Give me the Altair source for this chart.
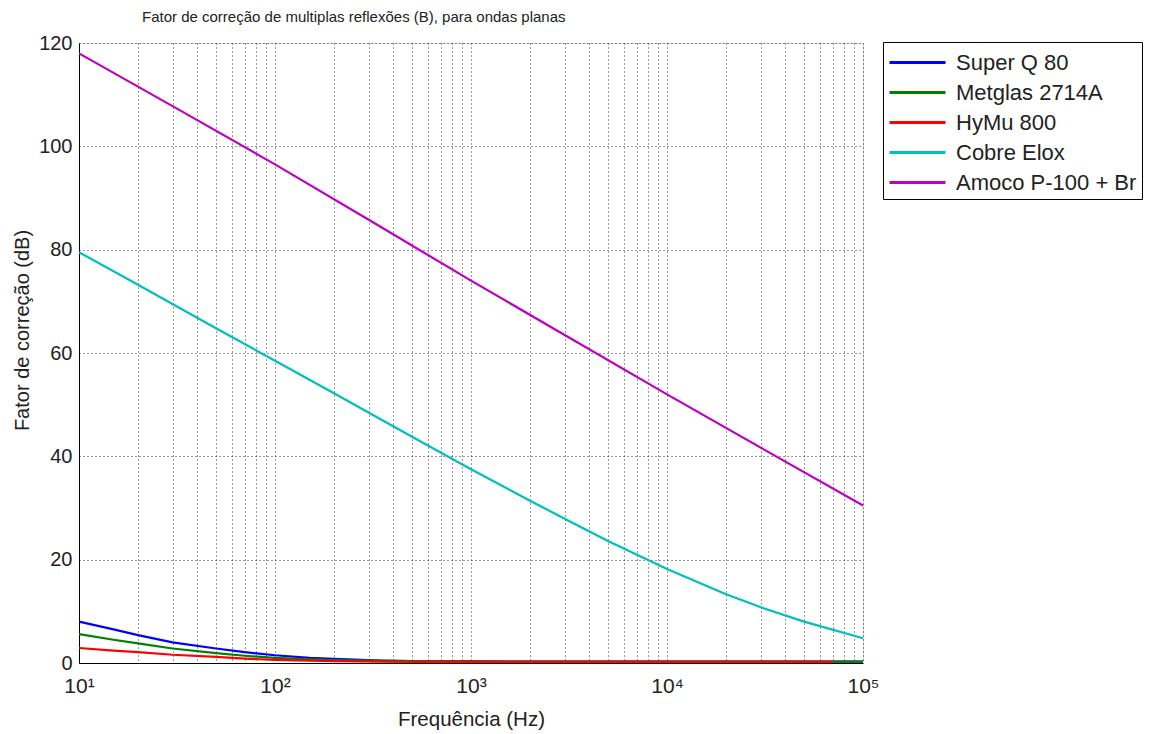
import altair as alt
import pandas as pd

# Frequency grids (Hz) and values (dB)
freq_magenta = [10, 31.6, 100, 316, 1000, 3162, 10000, 31623, 100000]
amoco = [118.0, 107.3, 96.5, 85.3, 74.0, 63.0, 52.0, 41.2, 30.5]

freq_cyan = [10, 20, 31.6, 50, 100, 200, 316, 500, 1000, 2000, 3162, 5000, 10000, 20000, 31623, 50000, 100000]
cobre = [79.5, 73.2, 69.0, 64.8, 58.5, 52.2, 48.0, 43.8, 37.5, 31.4, 27.5, 23.6, 18.2, 13.3, 10.5, 8.0, 4.8]

freq_small = [10, 15, 20, 30, 50, 70, 100, 150, 200, 350, 500, 1000, 10000, 70000, 100000]
superq = [8.0, 6.5, 5.4, 4.0, 2.8, 2.1, 1.5, 1.0, 0.8, 0.45, 0.35, 0.3, 0.25, 0.25, 0.25]
metglas = [5.6, 4.5, 3.8, 2.8, 1.9, 1.4, 1.0, 0.7, 0.55, 0.4, 0.35, 0.3, 0.25, 0.25, 0.25]
hymu = [2.9, 2.4, 2.1, 1.6, 1.2, 0.85, 0.6, 0.45, 0.35, 0.25, 0.22, 0.2, 0.2, 0.2, None]

series_names = ["Super Q 80", "Metglas 2714A", "HyMu 800", "Cobre Elox", "Amoco P-100 + Br"]
series_colors = ["#0000ff", "#008000", "#ff0000", "#00bfbf", "#bf00bf"]

x_ticks = [m * 10 ** e for e in range(1, 5) for m in range(1, 10)] + [100000]
y_ticks = [0, 20, 40, 60, 80, 100, 120]

rows = []
for f, v in zip(freq_small, superq):
    rows.append({"f": f, "v": v, "s": series_names[0], "o": 0})
for f, v in zip(freq_small, metglas):
    rows.append({"f": f, "v": v, "s": series_names[1], "o": 1})
for f, v in zip(freq_small, hymu):
    if v is not None:
        rows.append({"f": f, "v": v, "s": series_names[2], "o": 2})
for f, v in zip(freq_cyan, cobre):
    rows.append({"f": f, "v": v, "s": series_names[3], "o": 3})
for f, v in zip(freq_magenta, amoco):
    rows.append({"f": f, "v": v, "s": series_names[4], "o": 4})
df = pd.DataFrame(rows)

label_expr = ("datum.value==10?'10¹':datum.value==100?'10²':datum.value==1000?'10³':"
              "datum.value==10000?'10⁴':datum.value==100000?'10⁵':''")

FONT = "Liberation Sans"

chart = alt.Chart(df).mark_line(strokeWidth=2.2).encode(
    x=alt.X("f:Q",
            scale=alt.Scale(type="log", domain=[10, 100000], nice=False),
            axis=alt.Axis(values=x_ticks, labelExpr=label_expr, title="Frequência (Hz)",
                          grid=True, gridDash=[1, 3], gridColor="#000000", gridOpacity=0.8,
                          ticks=False, labelFontSize=21, titleFontSize=20.5, titleFontWeight="normal",
                          labelPadding=12, titlePadding=13, domainColor="#000000",
                          labelColor="#222222", titleColor="#222222", labelFlush=False)),
    y=alt.Y("v:Q",
            scale=alt.Scale(domain=[0, 120], nice=False),
            axis=alt.Axis(values=y_ticks, title="Fator de correção (dB)",
                          grid=True, gridDash=[1, 3], gridColor="#000000", gridOpacity=0.8,
                          ticks=False, labelFontSize=20, titleFontSize=20,
                          titleFontWeight="normal", labelPadding=7, titlePadding=6, titleY=287,
                          domainColor="#000000", labelColor="#222222", titleColor="#222222")),
    color=alt.Color("s:N", scale=alt.Scale(domain=series_names, range=series_colors),
                    sort=series_names,
                    legend=alt.Legend(title=None, orient="none", legendX=804, legendY=-1,
                                      symbolType="M-1,0L3,0", symbolSize=784, symbolStrokeWidth=3,
                                      labelFontSize=22, labelFont=FONT, labelColor="#222222",
                                      strokeColor="#000000", fillColor="#ffffff", padding=5,
                                      rowPadding=3, labelOffset=37, labelLimit=300)),
    order=alt.Order("o:Q"),
    detail="s:N",
).properties(
    width=784, height=620,
    title=alt.Title("Fator de correção de multiplas reflexões (B), para ondas planas",
                    fontSize=15, fontWeight="normal", font=FONT, color="#222222",
                    offset=8, anchor="start", frame="group", dx=63),
    autosize=alt.AutoSizeParams(type="none"),
    padding={"left": 79, "top": 43, "right": 291, "bottom": 71},
).configure_view(stroke="#000000", strokeWidth=1).configure_axis(
    labelFont=FONT, titleFont=FONT
).configure(background="#ffffff")

chart.save("out.html", embed_options={"renderer": "svg", "actions": False})
